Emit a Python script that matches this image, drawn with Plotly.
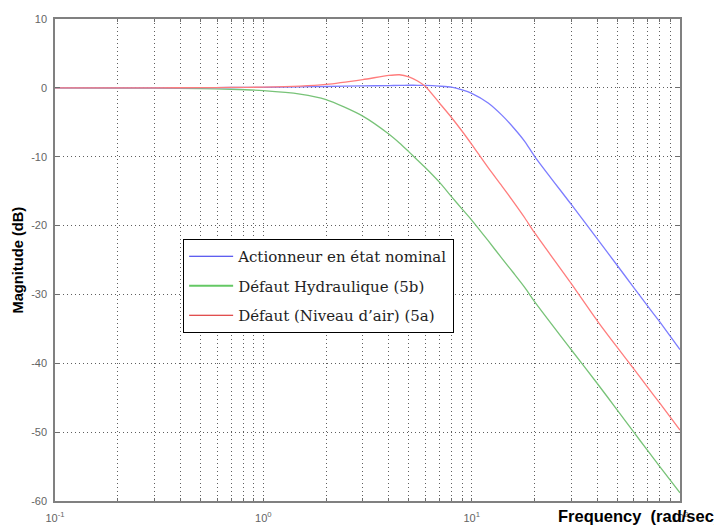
import plotly.graph_objects as go

# ---- data ----
freq = [0.1, 0.2, 0.3, 0.5, 0.7, 1, 1.5, 2, 3, 4, 4.5, 5, 5.5, 6, 7, 8, 9, 10,
        12, 14, 16, 18, 20, 30, 40, 50, 60, 70, 80, 100]

mag_nominal = [0, 0, 0, 0.02, 0.05, 0.08, 0.15, 0.2, 0.28, 0.33, 0.36, 0.38, 0.37, 0.35,
               0.25, 0.1, -0.3, -0.8, -2.2, -4.0, -5.9, -7.8, -9.9, -16.9, -21.9, -25.8,
               -29.0, -31.7, -34.0, -38.0]

mag_hydraulique = [0, -0.02, -0.04, -0.1, -0.2, -0.4, -0.9, -1.7, -4.1, -6.7, -8.0, -9.3,
                   -10.5, -11.6, -13.7, -15.8, -17.6, -19.2, -22.2, -24.8, -27.0, -29.0,
                   -31.0, -38.0, -42.9, -46.8, -50.0, -52.7, -55.0, -58.8]

mag_niveau_air = [0, 0, 0.01, 0.03, 0.06, 0.1, 0.25, 0.5, 1.2, 1.8, 1.9, 1.6, 1.0, 0.2,
                  -2.2, -4.3, -6.3, -8.2, -11.6, -14.3, -16.7, -18.9, -21.0, -28.4, -33.8,
                  -37.7, -40.8, -43.5, -45.8, -49.7]

names = ["Actionneur en état nominal", "Défaut Hydraulique (5b)", "Défaut (Niveau d’air) (5a)"]
series = [mag_nominal, mag_hydraulique, mag_niveau_air]
curve_colors = ["rgb(125,125,255)", "rgb(120,195,120)", "rgb(255,125,125)"]
legend_colors = ["rgb(40,40,235)", "rgb(100,200,100)", "rgb(215,20,20)"]
legend_widths = [1.2, 2.0, 1.2]

decades = [0.1, 1, 10, 100]
decade_labels = ["10<sup>-1</sup>", "10<sup>0</sup>", "10<sup>1</sup>", "10<sup>2</sup>"]
y_ticks = [10, 0, -10, -20, -30, -40, -50, -60]
y_labels = ["10", "0", "-10", "-20", "-30", "-40", "-50", "-60"]

fig = go.Figure()

for i in [1, 0, 2]:
    fig.add_trace(go.Scatter(x=freq, y=series[i], mode="lines",
                             line=dict(color=curve_colors[i], width=1.3,
                                       shape="spline", smoothing=0.7),
                             showlegend=False, hoverinfo="skip"))

for i in range(3):
    fig.add_trace(go.Scatter(x=[None], y=[None], mode="lines", name=names[i],
                             legendgroup=str(i),
                             line=dict(color=legend_colors[i], width=legend_widths[i])))

tickvals = []
ticktext = []
for d, lab in zip(decades, decade_labels):
    for m in range(1, 10):
        v = d * m
        if v > 100:
            break
        tickvals.append(v)
        ticktext.append(lab if m == 1 else "")

common = dict(showgrid=True, gridcolor="rgb(95,95,95)", gridwidth=1, griddash="1px,3px",
              zeroline=False, showline=True, linecolor="rgb(128,128,128)", linewidth=1.5,
              mirror="allticks", ticks="inside", tickcolor="rgb(110,110,110)",
              automargin=False,
              tickfont=dict(family="Liberation Sans, Arial", size=11, color="rgb(100,100,100)"))

fig.update_xaxes(type="log", range=[-1, 2], tickvals=tickvals, ticktext=ticktext,
                 ticklen=3, ticklabelstandoff=6, **common)
fig.update_yaxes(range=[-60, 10], tickvals=y_ticks, ticktext=y_labels, ticklen=5,
                 ticklabelstandoff=4, **common)

fig.add_annotation(text="<b>Frequency&nbsp;&nbsp;(rad/sec)</b>", xref="paper", yref="paper",
                   x=1.066, y=-0.032, showarrow=False, xanchor="right", yanchor="middle",
                   font=dict(family="Liberation Sans, Arial", size=16.5, color="black"))
fig.add_annotation(text="<b>Magnitude (dB)</b>", xref="paper", yref="paper",
                   x=-0.059, y=0.499, showarrow=False, textangle=-90,
                   xanchor="center", yanchor="middle",
                   font=dict(family="Liberation Sans, Arial", size=14.7, color="black"))

# the page body has an 8px default margin, so the figure is 8px smaller
fig.update_layout(
    width=714, height=517,
    margin=dict(l=47, r=42, t=11, b=24),
    plot_bgcolor="white", paper_bgcolor="white",
    legend=dict(x=0.205, y=0.5436, xanchor="left", yanchor="top",
                bgcolor="white", bordercolor="black", borderwidth=1,
                font=dict(family="DejaVu Serif", size=15, color="rgb(30,30,30)"),
                tracegroupgap=7, itemwidth=44),
)

fig.write_html("out.html")
